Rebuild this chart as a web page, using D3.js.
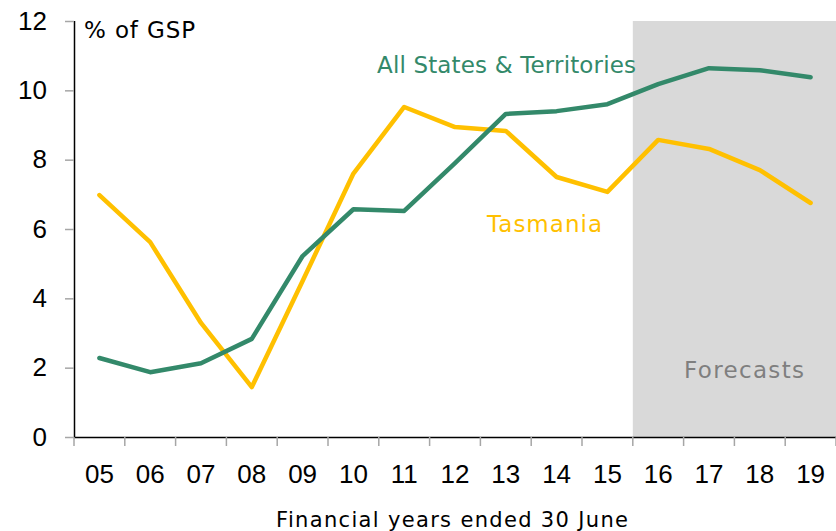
<!DOCTYPE html>
<html>
<head>
<meta charset="utf-8">
<script src="https://cdn.jsdelivr.net/npm/d3@7"></script>
<style>
  html, body { margin: 0; padding: 0; background: #fff; }
  svg { display: block; font-family: "DejaVu Sans", sans-serif; }
</style>
</head>
<body>
<svg id="chart" width="836" height="531"></svg>
<script>
// Financial years (ended 30 June)
const years = ["05","06","07","08","09","10","11","12","13","14","15","16","17","18","19"];
// All States & Territories, % of GSP
const allStates = [2.28,1.87,2.13,2.83,5.22,6.57,6.52,7.9,9.32,9.4,9.6,10.18,10.64,10.58,10.38];
// Tasmania, % of GSP
const tasmania = [6.98,5.62,3.29,1.44,4.5,7.6,9.52,8.94,8.83,7.5,7.07,8.57,8.31,7.7,6.75];
const yTicks = [0,2,4,6,8,10,12];
const forecastStart = "16";

(function () {
const svg = d3.select("#chart");
const plotLeft = 74, plotRight = 836, plotTop = 21, plotBottom = 437;

const x = d3.scaleBand().domain(years).range([plotLeft, plotRight]);
const y = d3.scaleLinear().domain([0, 12]).range([plotBottom, plotTop]);

// Forecast shading
svg.append("rect")
  .attr("x", x(forecastStart))
  .attr("y", y(12))
  .attr("width", plotRight - x(forecastStart))
  .attr("height", y(0) - y(12))
  .attr("fill", "#d9d9d9");

// Y axis
const yAxis = svg.append("g")
  .attr("transform", `translate(${plotLeft},0)`)
  .call(d3.axisLeft(y).tickValues(yTicks).tickSize(9).tickPadding(18).tickFormat(d3.format("d")));
yAxis.select(".domain").attr("stroke", "#000").attr("stroke-width", 1.5).attr("d", `M0.5,${plotTop}V${plotBottom}`);
yAxis.selectAll(".tick line").attr("stroke", "#a6a6a6").attr("stroke-width", 1.5);
yAxis.selectAll(".tick text").attr("font-size", 26).attr("fill", "#000").attr("font-family", "inherit");

// X axis
const xAxis = svg.append("g")
  .attr("transform", `translate(0,${plotBottom})`)
  .call(d3.axisBottom(x).tickSize(0).tickPadding(28));
xAxis.select(".domain").attr("stroke", "#000").attr("stroke-width", 1.5).attr("d", `M${plotLeft},0.5H${plotRight}`);
xAxis.selectAll(".tick text").attr("font-size", 26).attr("fill", "#000").attr("font-family", "inherit");
// boundary ticks between categories
const bounds = years.map(d => x(d)).concat([plotRight]);
xAxis.selectAll(".bound").data(bounds).enter().append("line")
  .attr("class", "bound")
  .attr("x1", d => d).attr("x2", d => d)
  .attr("y1", 0).attr("y2", 9)
  .attr("stroke", "#a6a6a6").attr("stroke-width", 1.5);

// Lines
const line = d3.line()
  .x((d, i) => x(years[i]) + x.bandwidth() / 2)
  .y(d => y(d));

svg.append("path").datum(tasmania)
  .attr("fill", "none").attr("stroke", "#ffc000").attr("stroke-width", 4.5)
  .attr("stroke-linejoin", "round").attr("stroke-linecap", "round")
  .attr("d", line);

svg.append("path").datum(allStates)
  .attr("fill", "none").attr("stroke", "#33896a").attr("stroke-width", 4.5)
  .attr("stroke-linejoin", "round").attr("stroke-linecap", "round")
  .attr("d", line);

// Text label stretched to a set width by letter spacing
function label(txt, lx, ly, size, fill, width) {
  const t = svg.append("text")
    .attr("x", lx).attr("y", ly)
    .attr("font-size", size).attr("fill", fill)
    .text(txt);
  const w = t.node().getComputedTextLength();
  if (width && Math.abs(w - width) > 2) {
    t.attr("textLength", width).attr("lengthAdjust", "spacing");
  }
  return t;
}

label("Forecasts", 684, 378, 23, "#7f7f7f", 120);
label("All States & Territories", 377, 73, 23, "#33896a", 259);
label("Tasmania", 487, 232, 23, "#ffc000", 115);
label("% of GSP", 84, 38, 23, "#000", 111);
label("Financial years ended 30 June", 276, 527, 21, "#000", 352);
})();
</script>
</body>
</html>
